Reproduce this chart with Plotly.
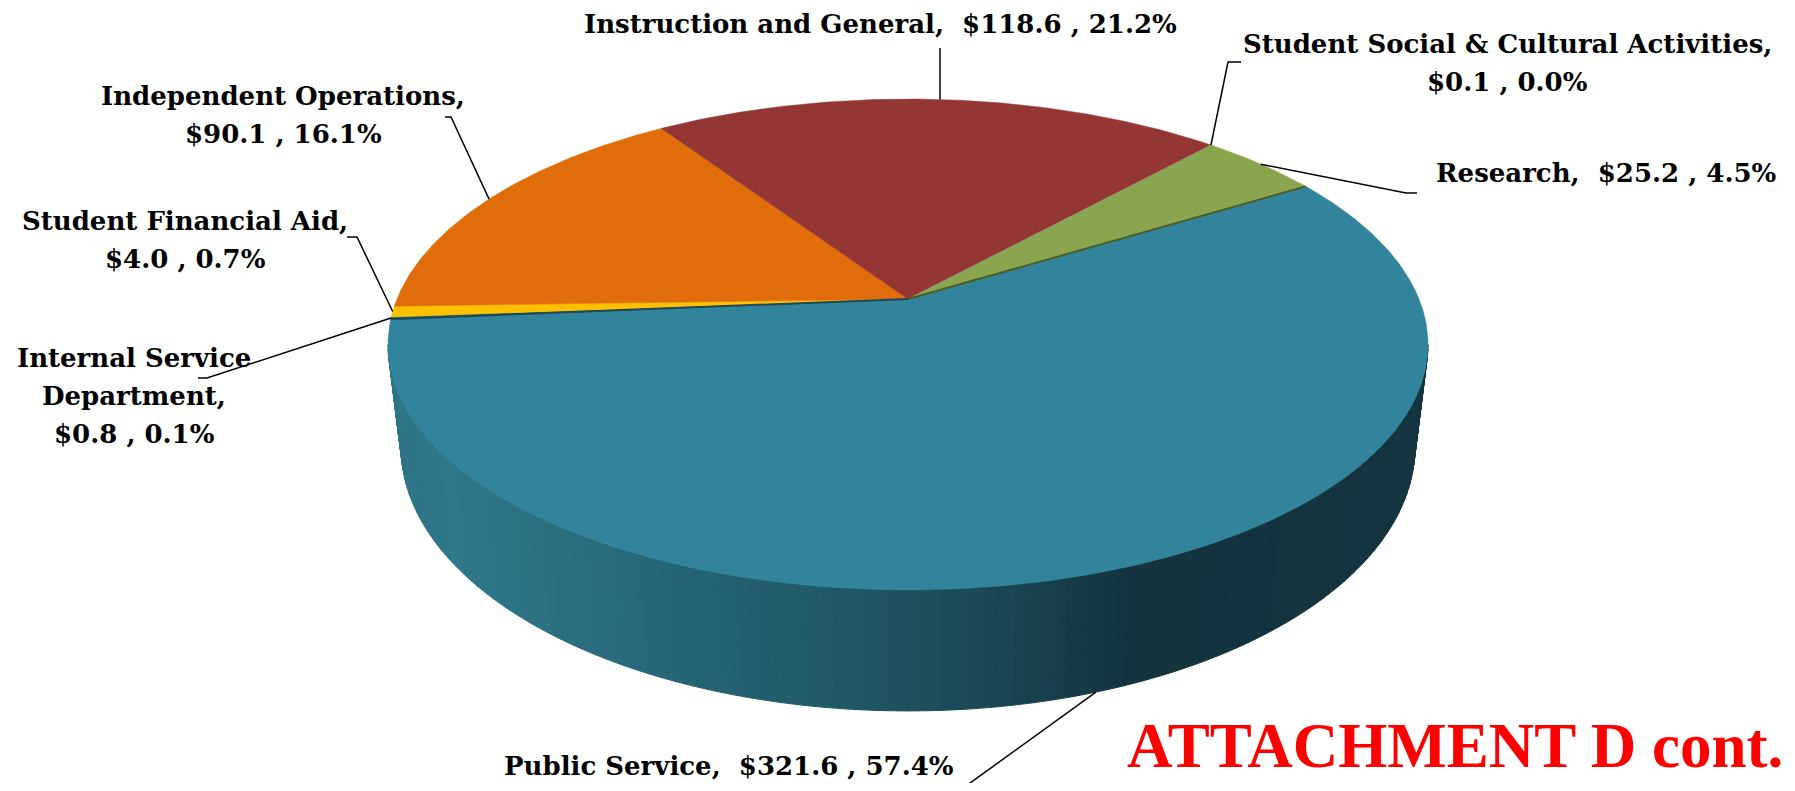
import numpy as np
import plotly.graph_objects as go

# ---------------- data ----------------
categories = ["Public Service", "Internal Service Department", "Student Financial Aid",
              "Independent Operations", "Instruction and General",
              "Student Social & Cultural Activities", "Research"]
values = [321.6, 0.8, 4.0, 90.1, 118.6, 0.1, 25.2]

# ---------------- style / layout ----------------
slice_colors = ["#31849B", "#1F5868", "#FFC000", "#E06C0A", "#943634", "#8064A2", "#89A54E"]
label_wrap = [1, 3, 2, 2, 1, 2, 1]          # how each label is broken into lines
label_center_x = [729, 134, 185, 283, 880, 1507, 1606]
label_first_y = [766, 358, 221, 96, 24, 44, 173]
label_line_gap = 38
leader_start = [[(959, 791)], [(198, 378), (207, 378)], [(347, 237), (357, 237)],
                [(445, 117), (451, 117)], [(940, 48)], [(1241, 62), (1228, 62)],
                [(1417, 193), (1406, 193)]]
leader_to_bottom = [True, False, False, False, False, False, False]

W, H = 1795, 791
PAGE_MARGIN = 8          # default body margin of the html page
CX, CY = 908, 299
RX, RY = 511, 237
PERSP = 0.1853
DEPTH = 98.6
BOTTOM_SCALE = 0.975
START_ANGLE = 31.4
LABEL_FONT = dict(family="DejaVu Serif", size=26, color="black")


def project(t_deg, bottom=False):
    t = np.radians(np.asarray(t_deg, dtype=float))
    u, v = np.cos(t), np.sin(t)
    w = 1 + PERSP * v
    x = RX * u / w
    y = -RY * v / w
    if bottom:
        x = x * BOTTOM_SCALE
        y = y + DEPTH / w
    return CX + x, CY + y


total = float(np.sum(values))
fracs = np.array(values) / total
cum = np.concatenate([[0], np.cumsum(fracs)])
starts = START_ANGLE - 360 * cum[:-1]
ends = START_ANGLE - 360 * cum[1:]
mids = (starts + ends) / 2

fig = go.Figure()

# ---------------- side wall (gradient bands) ----------------
t_sil = np.degrees(np.arcsin(PERSP))
t_left, t_right = -180 + t_sil, -t_sil
band_t = np.linspace(t_left, t_right, 161)
xl, _ = project(t_left)
xr, _ = project(t_right)
stops = [(0.0, (45, 116, 134)), (0.06, (46, 120, 138)), (0.3, (37, 99, 115)),
         (0.5, (30, 81, 95)), (0.62, (25, 66, 78)), (0.72, (19, 51, 61)),
         (1.0, (20, 53, 63))]


def grad(p):
    for (p0, c0), (p1, c1) in zip(stops[:-1], stops[1:]):
        if p <= p1:
            f = (p - p0) / (p1 - p0) if p1 > p0 else 0
            c = [round(c0[i] + f * (c1[i] - c0[i])) for i in range(3)]
            return "rgb(%d,%d,%d)" % tuple(c)
    return "rgb(%d,%d,%d)" % stops[-1][1]


for t0, t1 in zip(band_t[:-1], band_t[1:]):
    tx0, ty0 = project(t0)
    tx1, ty1 = project(t1)
    bx0, by0 = project(t0, True)
    bx1, by1 = project(t1, True)
    p = ((tx0 + tx1) / 2 - xl) / (xr - xl)
    col = grad(min(max(p, 0), 1))
    fig.add_trace(go.Scatter(x=[tx0, tx1, bx1, bx0, tx0], y=[ty0, ty1, by1, by0, ty0],
                             mode="lines", fill="toself", fillcolor=col,
                             line=dict(color=col, width=1), hoverinfo="skip"))

# ---------------- top surface slices ----------------
for i, name in enumerate(categories):
    n = max(int(abs(starts[i] - ends[i]) * 2), 2)
    ts = np.linspace(starts[i], ends[i], n)
    xs, ys = project(ts)
    fig.add_trace(go.Scatter(x=np.concatenate([[CX], xs, [CX]]),
                             y=np.concatenate([[CY], ys, [CY]]),
                             mode="lines", fill="toself", fillcolor=slice_colors[i],
                             line=dict(color=slice_colors[i], width=0.5),
                             name=name, hoverinfo="name"))

# thin shaded edges along the radial borders of the largest slice
for ang, col in [(starts[0], "#4A5E2A"), (ends[0], "#1E4A56")]:
    ex, ey = project(ang)
    fig.add_trace(go.Scatter(x=[CX, ex], y=[CY, ey], mode="lines",
                             line=dict(color=col, width=2), hoverinfo="skip"))

# ---------------- labels & leader lines ----------------
annotations = []
for i, name in enumerate(categories):
    pct = fracs[i] * 100
    val = "$%.1f , %.1f%%" % (values[i], pct)
    if label_wrap[i] == 1:
        lines = [name + ",\u00a0 " + val]
    elif label_wrap[i] == 2:
        lines = [name + ",", val]
    else:
        a, b = name.rsplit(" ", 1)
        lines = [a, b + ",", val]
    for k, ln in enumerate(lines):
        annotations.append(dict(x=label_center_x[i], y=label_first_y[i] + k * label_line_gap,
                                xref="x", yref="y", text="<b>" + ln + "</b>",
                                showarrow=False, xanchor="center", yanchor="middle",
                                font=LABEL_FONT))
    rx, ry = project(mids[i], leader_to_bottom[i])
    pts = leader_start[i] + [(float(rx), float(ry))]
    fig.add_trace(go.Scatter(x=[p[0] for p in pts], y=[p[1] for p in pts], mode="lines",
                             line=dict(color="black", width=1.5), hoverinfo="skip"))

annotations.append(dict(x=1785, y=0, xref="x", yref="paper", text="<b>ATTACHMENT D cont.</b>",
                        showarrow=False, xanchor="right", yanchor="bottom",
                        font=dict(family="Liberation Serif", size=63, color="#FF0000")))

fig.update_layout(width=W - 2 * PAGE_MARGIN, height=H - 2 * PAGE_MARGIN,
                  margin=dict(l=0, r=0, t=0, b=0),
                  paper_bgcolor="white", plot_bgcolor="white", showlegend=False,
                  annotations=annotations,
                  xaxis=dict(range=[PAGE_MARGIN, W - PAGE_MARGIN], visible=False, fixedrange=True),
                  yaxis=dict(range=[H - PAGE_MARGIN, PAGE_MARGIN], visible=False, fixedrange=True))

fig.write_html("out.html", config={"displayModeBar": False})
